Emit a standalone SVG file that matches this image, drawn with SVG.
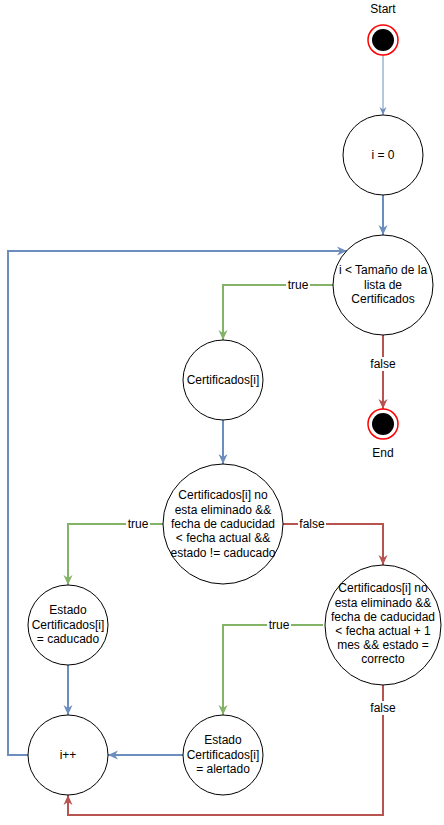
<svg xmlns="http://www.w3.org/2000/svg" width="444" height="825" viewBox="0 0 444 825">
<style>
.node{fill:#fff;stroke:#000;stroke-width:1}
.t{font-family:"Liberation Sans",Arial,sans-serif;font-size:12px;fill:#000;text-anchor:middle;dominant-baseline:central}
.lbl{font-family:"Liberation Sans",Arial,sans-serif;font-size:12px;fill:#000;text-anchor:middle;dominant-baseline:central}
.e{fill:none;stroke-width:2}
.b{stroke:#6c8ebf}
.g{stroke:#82b366}
.r{stroke:#b85450}
.lb{fill:#fff}
.ring{fill:#fff;stroke:#ff0000;stroke-width:1.5}
</style>
<defs>
<marker id="ab" markerUnits="userSpaceOnUse" markerWidth="10" markerHeight="10" refX="10" refY="5" orient="auto" viewBox="0 0 10 10"><path d="M0,0.5 L10,5 L0,9.5 L3,5 Z" fill="#6c8ebf"/></marker>
<marker id="abs" markerUnits="userSpaceOnUse" markerWidth="8" markerHeight="8" refX="8" refY="4" orient="auto" viewBox="0 0 8 8"><path d="M0,0.5 L8,4 L0,7.5 L2.5,4 Z" fill="#6c8ebf"/></marker>
<marker id="ag" markerUnits="userSpaceOnUse" markerWidth="10" markerHeight="10" refX="10" refY="5" orient="auto" viewBox="0 0 10 10"><path d="M0,0.5 L10,5 L0,9.5 L3,5 Z" fill="#82b366"/></marker>
<marker id="ar" markerUnits="userSpaceOnUse" markerWidth="10" markerHeight="10" refX="10" refY="5" orient="auto" viewBox="0 0 10 10"><path d="M0,0.5 L10,5 L0,9.5 L3,5 Z" fill="#b85450"/></marker>
</defs>
<g id="connectors">
<path class="b" d="M383,55 L383,115" fill="none" stroke-width="1" marker-end="url(#abs)"/>
<path class="e b" d="M383,195 L383,235" marker-end="url(#ab)"/>
<path class="e g" d="M333,285 L223,285 L223,340" marker-end="url(#ag)"/>
<path class="e r" d="M383,335 L383,409" marker-end="url(#ar)"/>
<path class="e b" d="M223,420 L223,464" marker-end="url(#ab)"/>
<path class="e g" d="M163,524 L68,524 L68,585" marker-end="url(#ag)"/>
<path class="e r" d="M283,524 L383,524 L383,565" marker-end="url(#ar)"/>
<path class="e g" d="M323,625 L223,625 L223,715" marker-end="url(#ag)"/>
<path class="e r" d="M383,685 L383,815 L68,815 L68,795" marker-end="url(#ar)"/>
<path class="e b" d="M68,665 L68,715" marker-end="url(#ab)"/>
<path class="e b" d="M183,755 L108,755" marker-end="url(#ab)"/>
<path class="e b" d="M28,755 L8,755 L8,251 L347,251" marker-end="url(#ab)"/>
<rect class="lb" x="286" y="278" width="24" height="14"/>
<text class="lbl" x="298" y="285">true</text>
<rect class="lb" x="369" y="357" width="28" height="14"/>
<text class="lbl" x="383" y="364">false</text>
<rect class="lb" x="126" y="517" width="24" height="14"/>
<text class="lbl" x="138" y="524">true</text>
<rect class="lb" x="298" y="517" width="28" height="14"/>
<text class="lbl" x="312" y="524">false</text>
<rect class="lb" x="267" y="618" width="24" height="14"/>
<text class="lbl" x="279" y="625">true</text>
<rect class="lb" x="369" y="701" width="28" height="14"/>
<text class="lbl" x="383" y="708">false</text>
</g>
<g id="start">
<text class="t" x="383" y="9">Start</text>
<circle class="ring" cx="383" cy="40" r="15"/>
<circle cx="383" cy="40" r="11" fill="#000"/>
</g>
<g id="init">
<circle class="node" cx="383" cy="155" r="40"/>
<text class="t" x="383" y="155">i = 0</text>
</g>
<g id="loop">
<circle class="node" cx="383" cy="285" r="50"/>
<text class="t" x="383" y="270">i &lt; Tamaño de la</text>
<text class="t" x="383" y="285">lista de</text>
<text class="t" x="383" y="299">Certificados</text>
</g>
<g id="end">
<circle class="ring" cx="383" cy="424" r="15"/>
<circle cx="383" cy="424" r="11" fill="#000"/>
<text class="t" x="383" y="453">End</text>
</g>
<g id="cert">
<circle class="node" cx="223" cy="380" r="40"/>
<text class="t" x="223" y="380">Certificados[i]</text>
</g>
<g id="cond1">
<circle class="node" cx="223" cy="524" r="60"/>
<text class="t" x="223" y="495">Certificados[i] no</text>
<text class="t" x="223" y="510">esta eliminado &amp;&amp;</text>
<text class="t" x="223" y="524">fecha de caducidad</text>
<text class="t" x="223" y="538">&lt; fecha actual &amp;&amp;</text>
<text class="t" x="223" y="553">estado != caducado</text>
</g>
<g id="cond2">
<ellipse class="node" cx="383" cy="625" rx="58" ry="60"/>
<text class="t" x="383" y="588">Certificados[i] no</text>
<text class="t" x="383" y="603">esta eliminado &amp;&amp;</text>
<text class="t" x="383" y="617">fecha de caducidad</text>
<text class="t" x="383" y="631">&lt; fecha actual + 1</text>
<text class="t" x="383" y="645">mes &amp;&amp; estado =</text>
<text class="t" x="383" y="659">correcto</text>
</g>
<g id="caducado">
<circle class="node" cx="68" cy="625" r="40"/>
<text class="t" x="68" y="610">Estado</text>
<text class="t" x="68" y="625">Certificados[i]</text>
<text class="t" x="68" y="639">= caducado</text>
</g>
<g id="inc">
<circle class="node" cx="68" cy="755" r="40"/>
<text class="t" x="68" y="755">i++</text>
</g>
<g id="alertado">
<circle class="node" cx="223" cy="755" r="40"/>
<text class="t" x="223" y="740">Estado</text>
<text class="t" x="223" y="755">Certificados[i]</text>
<text class="t" x="223" y="769">= alertado</text>
</g>
</svg>
